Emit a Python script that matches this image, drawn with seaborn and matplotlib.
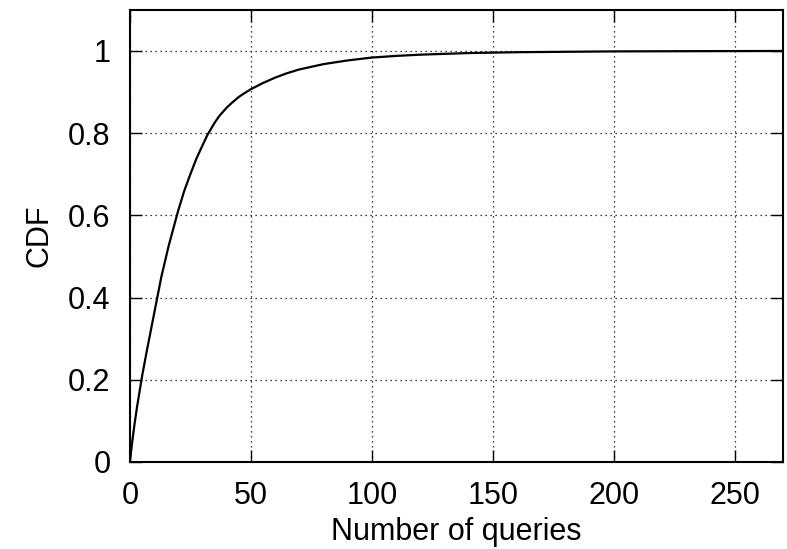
import numpy as np
import pandas as pd
import matplotlib
matplotlib.use("Agg")
import matplotlib.pyplot as plt
from matplotlib.ticker import FuncFormatter
import seaborn as sns

# CDF points
queries = [0, 1, 2, 3, 5, 7, 10, 13, 16, 20, 22.5, 25, 27.5, 30, 32, 35, 37, 40,
           42, 45, 47, 50, 55, 60, 65, 70, 80, 90, 100, 110, 120, 140, 160, 180,
           200, 230, 270]
cdf = [0.0, 0.05, 0.095, 0.135, 0.207, 0.27, 0.36, 0.45, 0.525, 0.612, 0.66, 0.70,
       0.738, 0.77, 0.795, 0.825, 0.842, 0.862, 0.873, 0.888, 0.896, 0.907, 0.922,
       0.935, 0.946, 0.955, 0.968, 0.977, 0.984, 0.988, 0.991, 0.995, 0.997, 0.998,
       0.999, 0.9995, 1.0]
x_ticks = [0, 50, 100, 150, 200, 250]
y_ticks = [0, 0.2, 0.4, 0.6, 0.8, 1.0]

df = pd.DataFrame({"queries": queries, "cdf": cdf})

sns.set_style("ticks")
plt.rcParams["font.family"] = ["Liberation Sans", "DejaVu Sans"]

fig = plt.figure(figsize=(7.87, 5.49), dpi=100)
ax = fig.add_axes([0.165, 0.1585, 0.83, 0.8235])

sns.lineplot(data=df, x="queries", y="cdf", ax=ax, color="black", linewidth=1.6)

ax.set_xlim(0, 270)
ax.set_ylim(0, 1.1)
ax.set_xticks(x_ticks)
ax.set_yticks(y_ticks)
ax.yaxis.set_major_formatter(FuncFormatter(lambda v, p: f"{v:g}"))

ax.grid(True, color="black", linestyle=(0, (1, 3)), linewidth=0.9)
for s in ax.spines.values():
    s.set_linewidth(1.5)
    s.set_color("black")
ax.tick_params(direction="in", length=8.5, width=1.0, top=True, right=True,
               labelsize=22, colors="black")
ax.tick_params(axis="y", pad=14)
ax.tick_params(axis="x", pad=14)

ax.set_xlabel("Number of queries", fontsize=22, labelpad=4, color="black")
ax.set_ylabel("CDF", fontsize=22, labelpad=10, color="black")

fig.savefig("out.png", dpi=100)
